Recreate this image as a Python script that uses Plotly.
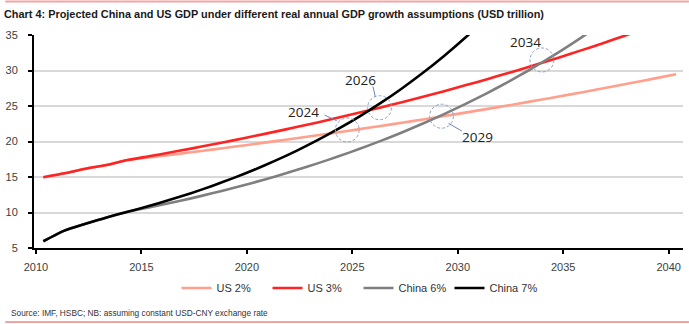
import plotly.graph_objects as go

# Annual GDP, USD trillion; 2010-2014 actual, projections thereafter
years = list(range(2010, 2041))

us_2pct = [14.96, 15.52, 16.16, 16.69, 17.39, 17.75, 18.11, 18.48, 18.86, 19.25,
           19.64, 20.05, 20.46, 20.88, 21.31, 21.74, 22.19, 22.64, 23.11, 23.58,
           24.07, 24.56, 25.06, 25.58, 26.10, 26.64, 27.18, 27.74, 28.31, 28.89, 29.48]
us_3pct = [14.96, 15.52, 16.16, 16.69, 17.39, 17.91, 18.45, 19.00, 19.57, 20.16,
           20.76, 21.39, 22.03, 22.69, 23.37, 24.07, 24.79, 25.54, 26.30, 27.09,
           27.91, 28.74, 29.61, 30.49, 31.41, 32.35, 33.32, 34.32, 35.35, 36.41, 37.50]
china_6pct = [5.95, 7.45, 8.40, 9.30, 10.10, 10.70, 11.33, 11.99, 12.70, 13.45,
              14.24, 15.08, 15.97, 16.92, 17.91, 18.97, 20.09, 21.27, 22.53, 23.86,
              25.26, 26.75, 28.33, 30.00, 31.77, 33.65, 35.63, 37.73]
china_7pct = [5.95, 7.45, 8.40, 9.30, 10.10, 10.91, 11.78, 12.72, 13.74, 14.84,
              16.03, 17.31, 18.69, 20.19, 21.81, 23.55, 25.43, 27.47, 29.67, 32.04,
              34.60, 37.37]

series_names = ["US 2%", "US 3%", "China 6%", "China 7%"]
series_values = [us_2pct, us_3pct, china_6pct, china_7pct]
series_colors = ["#ff9f8c", "#ff2424", "#7f7f7f", "#000000"]

x_tick_labels = ["2010", "2015", "2020", "2025", "2030", "2035", "2040"]
y_tick_labels = ["5", "10", "15", "20", "25", "30", "35"]

# Crossover call-outs: label, circle centre (year, value), label centre, leader line
callouts = [
    ("2024", (2024.76, 21.62), (2022.68, 24.11), ((2023.68, 23.73), (2024.26, 22.93))),
    ("2026", (2026.29, 24.76), (2025.40, 28.66), ((2025.98, 27.75), (2026.09, 26.27))),
    ("2029", (2029.23, 23.56), (2030.93, 20.63), ((2029.56, 22.56), (2030.19, 21.48))),
    ("2034", (2033.99, 31.48), (2033.19, 34.06), None),
]

# Each year's observation sits a little after the year tick
YEAR_SHIFT = 0.35

W, H = 689, 324
M_L, M_R, M_T, M_B = 29, 6, 35, 76
X_RANGE = [2009.906, 2040.68]
Y_RANGE = [5, 35]
PLOT_W = W - M_L - M_R
PLOT_H = H - M_T - M_B
px_per_year = PLOT_W / (X_RANGE[1] - X_RANGE[0])
px_per_unit = PLOT_H / (Y_RANGE[1] - Y_RANGE[0])


def paper_x(px):
    return (px - M_L) / PLOT_W


def paper_y(py):
    return (H - M_B - py) / PLOT_H


SANS = "Liberation Sans, Arial, sans-serif"

fig = go.Figure()
for name, vals, color in zip(series_names, series_values, series_colors):
    fig.add_trace(go.Scatter(
        x=[y + YEAR_SHIFT for y in years[:len(vals)]],
        y=vals,
        name=name,
        mode="lines",
        line=dict(color=color, width=2.6, shape="spline", smoothing=0.6),
        hoverinfo="skip",
    ))

shapes = []
annotations = []
r_px = 12
for label, (cx, cy), (tx, ty), leader in callouts:
    shapes.append(dict(
        type="circle", xref="x", yref="y",
        x0=cx - r_px / px_per_year, x1=cx + r_px / px_per_year,
        y0=cy - r_px / px_per_unit, y1=cy + r_px / px_per_unit,
        line=dict(color="#8da0c8", width=1, dash="3px,2px"),
        layer="above",
    ))
    if leader is not None:
        (lx0, ly0), (lx1, ly1) = leader
        shapes.append(dict(
            type="line", xref="x", yref="y",
            x0=lx0, y0=ly0, x1=lx1, y1=ly1,
            line=dict(color="#6f86b8", width=1),
        ))
    annotations.append(dict(
        x=tx, y=ty, xref="x", yref="y", text=label, showarrow=False,
        font=dict(family="Open Sans, Noto Sans, sans-serif", size=13.5, color="#222222"),
        xanchor="center", yanchor="middle",
    ))

# Thin brand rules across the top and bottom of the exhibit
for py in (1.5, 322):
    shapes.append(dict(
        type="line", xref="paper", yref="paper",
        x0=paper_x(0), x1=paper_x(W), y0=paper_y(py), y1=paper_y(py),
        line=dict(color="#f4a3a3", width=2),
    ))

annotations.append(dict(
    xref="paper", yref="paper", x=paper_x(4), y=paper_y(313),
    xanchor="left", yanchor="middle", showarrow=False,
    text="Source: IMF, HSBC; NB: assuming constant USD-CNY exchange rate",
    font=dict(family=SANS, size=8.3, color="#333333"),
))

fig.update_layout(
    width=W, height=H,
    margin=dict(l=M_L, r=M_R, t=M_T, b=M_B),
    paper_bgcolor="white", plot_bgcolor="white",
    title=dict(
        text="<b>Chart 4: Projected China and US GDP under different real annual GDP growth assumptions (USD trillion)</b>",
        x=4 / W, xref="container", xanchor="left",
        y=1 - 14 / H, yref="container", yanchor="middle",
        font=dict(family=SANS, size=10.9, color="#1a1a1a"),
    ),
    showlegend=True,
    legend=dict(
        orientation="h", x=0.5, xanchor="center",
        y=paper_y(288), yanchor="middle",
        font=dict(family=SANS, size=11, color="#333333"),
        bgcolor="rgba(0,0,0,0)",
        entrywidth=46, entrywidthmode="pixels",
    ),
    shapes=shapes,
    annotations=annotations,
)

fig.update_xaxes(
    range=X_RANGE,
    tickmode="array",
    tickvals=[int(t) for t in x_tick_labels],
    ticktext=x_tick_labels,
    showgrid=False, zeroline=False,
    showline=True, linecolor="black", linewidth=2,
    ticks="outside", ticklen=4, tickcolor="black", tickwidth=1.5,
    tickfont=dict(family=SANS, size=11, color="#404040"),
    ticklabelstandoff=4,
)
fig.update_yaxes(
    range=Y_RANGE,
    tickmode="array",
    tickvals=[int(t) for t in y_tick_labels],
    ticktext=y_tick_labels,
    showgrid=True, gridcolor="#d9d9d9", gridwidth=1.5, zeroline=False,
    showline=True, linecolor="black", linewidth=2,
    ticks="outside", ticklen=4, tickcolor="black", tickwidth=1.5,
    tickfont=dict(family=SANS, size=11, color="#404040"),
    ticklabelstandoff=8,
)

fig.write_html("out.html")
